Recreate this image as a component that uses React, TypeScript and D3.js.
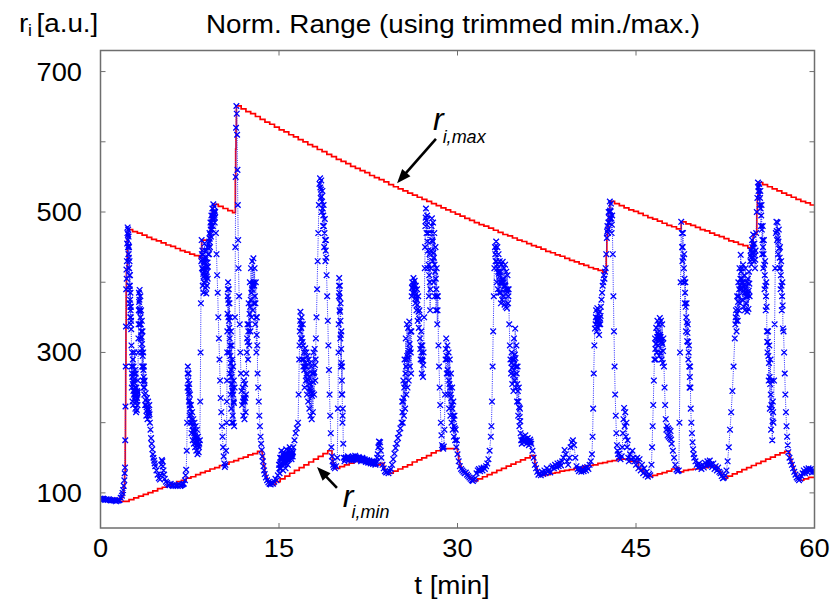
import React, { useEffect, useRef } from 'react';
import * as d3 from 'd3';

type Pt = [number, number];

const xTicks = [0, 15, 30, 45, 60];
const yTicks = [100, 200, 300, 400, 500, 600, 700];
const yLabels = [100, 300, 500, 700];
const STEP = 0.4; // update interval of the trimmed min./max. [min]

// measured signal r_i(t): [t in min, r_i]
const trace0to15: Pt[] = [
  [0, 92], [0.1, 91], [0.2, 92], [0.3, 91], [0.4, 90], [0.5, 91], [0.6, 90], [0.7, 91], [0.8, 90], [0.9, 89],
  [1.0, 90], [1.1, 89], [1.2, 89], [1.3, 88], [1.4, 89], [1.5, 89], [1.6, 90], [1.7, 93], [1.8, 96], [1.85, 100],
  [1.9, 104], [1.95, 110], [2.0, 118], [2.03, 128], [2.06, 136], [2.08, 175], [2.1, 223], [2.12, 280], [2.14, 337],
  [2.16, 390], [2.18, 418], [2.2, 405], [2.22, 430], [2.24, 455], [2.26, 470], [2.28, 478], [2.3, 460], [2.32, 475],
  [2.34, 440], [2.36, 465], [2.38, 420], [2.4, 450], [2.42, 395], [2.44, 430], [2.46, 370], [2.48, 410], [2.5, 350],
  [2.52, 385], [2.54, 340], [2.56, 365], [2.58, 333], [2.6, 310], [2.63, 250], [2.66, 300], [2.69, 230], [2.72, 290],
  [2.75, 225], [2.78, 280], [2.81, 240], [2.84, 300], [2.87, 235], [2.9, 275], [2.93, 220], [2.96, 270], [2.99, 215],
  [3.02, 250], [3.05, 218], [3.08, 245], [3.11, 225], [3.14, 260], [3.17, 300], [3.2, 340], [3.23, 385], [3.26, 360],
  [3.29, 389], [3.32, 340], [3.35, 380], [3.38, 320], [3.41, 360], [3.44, 300], [3.47, 345], [3.5, 280], [3.53, 330],
  [3.56, 260], [3.59, 300], [3.62, 250], [3.65, 280], [3.68, 240], [3.71, 260], [3.75, 225], [3.8, 242], [3.85, 210],
  [3.9, 235], [3.95, 205], [4.0, 230], [4.05, 210], [4.1, 225], [4.15, 200], [4.2, 190], [4.25, 178], [4.3, 170],
  [4.35, 162], [4.4, 155], [4.45, 150], [4.5, 146], [4.55, 142], [4.6, 138], [4.7, 132], [4.8, 126], [4.9, 121],
  [5.0, 119], [5.05, 125], [5.1, 140], [5.15, 147], [5.2, 145], [5.25, 138], [5.3, 132], [5.35, 126], [5.4, 120],
  [5.5, 116], [5.6, 114], [5.7, 112], [5.8, 111], [5.9, 113], [6.0, 111], [6.1, 110], [6.2, 112], [6.3, 110],
  [6.4, 111], [6.5, 110], [6.6, 112], [6.7, 110], [6.8, 111], [6.9, 112], [7.0, 113], [7.1, 118], [7.15, 125],
  [7.2, 133], [7.25, 160], [7.28, 200], [7.31, 250], [7.34, 280], [7.37, 260], [7.4, 270], [7.43, 230], [7.46, 255],
  [7.49, 210], [7.52, 240], [7.55, 200], [7.6, 225], [7.65, 185], [7.7, 215], [7.75, 175], [7.8, 205], [7.85, 170],
  [7.9, 200], [7.95, 165], [8.0, 195], [8.05, 160], [8.1, 190], [8.15, 155], [8.2, 180], [8.25, 158], [8.3, 170],
  [8.35, 175], [8.38, 230], [8.41, 300], [8.44, 370], [8.47, 430], [8.5, 460], [8.53, 420], [8.56, 445], [8.59, 395],
  [8.62, 440], [8.65, 385], [8.68, 430], [8.71, 400], [8.74, 455], [8.77, 410], [8.8, 445], [8.83, 392], [8.86, 435],
  [8.89, 384], [8.92, 420], [8.95, 395], [8.98, 450], [9.01, 405], [9.04, 440], [9.08, 455], [9.12, 440], [9.16, 470],
  [9.2, 450], [9.24, 485], [9.28, 465], [9.32, 495], [9.36, 475], [9.4, 505], [9.44, 480], [9.48, 511], [9.52, 490],
  [9.56, 508], [9.6, 485], [9.64, 500], [9.7, 470], [9.75, 440], [9.8, 410], [9.85, 385], [9.9, 350], [9.95, 320],
  [10.0, 290], [10.05, 260], [10.1, 235], [10.15, 215], [10.2, 195], [10.25, 180], [10.3, 165], [10.35, 152],
  [10.4, 142], [10.45, 137], [10.5, 140], [10.55, 160], [10.6, 200], [10.63, 260], [10.66, 330], [10.69, 380],
  [10.72, 400], [10.75, 350], [10.78, 390], [10.81, 300], [10.84, 370], [10.87, 270], [10.9, 350], [10.93, 240],
  [10.96, 330], [10.99, 220], [11.02, 310], [11.05, 200], [11.08, 290], [11.11, 210], [11.14, 280], [11.17, 200],
  [11.2, 260], [11.23, 195], [11.27, 250], [11.3, 350], [11.33, 450], [11.36, 550], [11.39, 620], [11.42, 651],
  [11.45, 640], [11.48, 610], [11.51, 560], [11.54, 510], [11.57, 460], [11.6, 420], [11.65, 380], [11.7, 340],
  [11.75, 300], [11.8, 270], [11.85, 245], [11.9, 225], [11.95, 250], [12.0, 210], [12.05, 260], [12.1, 205],
  [12.15, 255], [12.2, 215], [12.25, 270], [12.3, 300], [12.35, 340], [12.4, 290], [12.45, 370], [12.5, 310],
  [12.55, 400], [12.6, 330], [12.65, 420], [12.7, 350], [12.75, 430], [12.8, 360], [12.85, 434], [12.9, 370],
  [12.95, 420], [13.0, 340], [13.05, 400], [13.1, 300], [13.15, 350], [13.2, 270], [13.25, 250], [13.3, 230],
  [13.35, 210], [13.4, 195], [13.45, 180], [13.5, 170], [13.55, 161], [13.6, 152], [13.65, 145], [13.7, 138],
  [13.75, 132], [13.8, 127], [13.9, 122], [14.0, 118], [14.1, 115], [14.2, 113], [14.3, 112], [14.4, 114],
  [14.5, 113], [14.6, 116], [14.7, 120], [14.8, 118], [14.9, 125],
];

// extra samples inside the noisy bands, 0-15 min
const band0to15: Pt[] = [
  [2.31, 450], [2.33, 468], [2.35, 452], [2.37, 440], [2.39, 435], [2.41, 420], [2.43, 410], [2.45, 390],
  [2.47, 395], [2.49, 375], [2.51, 365], [2.53, 360], [2.55, 350], [2.57, 345], [2.615, 280], [2.645, 270],
  [2.675, 265], [2.705, 255], [2.735, 260], [2.765, 245], [2.795, 258], [2.825, 270], [2.855, 262], [2.885, 250],
  [2.915, 245], [2.945, 240], [2.975, 238], [3.005, 232], [3.035, 230], [3.065, 235], [3.095, 240], [3.125, 243],
  [3.185, 320], [3.215, 360], [3.245, 372], [3.275, 375], [3.305, 362], [3.335, 358], [3.365, 350], [3.395, 340],
  [3.425, 330], [3.455, 322], [3.485, 312], [3.515, 305], [3.545, 295], [3.575, 280], [3.605, 275], [3.635, 265],
  [3.665, 258], [3.695, 250], [3.775, 232], [3.825, 225], [3.875, 222], [3.925, 218], [3.975, 220], [4.025, 218],
  [4.075, 215], [4.125, 212], [7.325, 270], [7.355, 270], [7.385, 245], [7.415, 250], [7.445, 242], [7.475, 232],
  [7.505, 225], [7.535, 220], [7.575, 212], [7.625, 205], [7.675, 200], [7.725, 195], [7.775, 190], [7.825, 188],
  [7.875, 185], [7.925, 182], [7.975, 180], [8.025, 178], [8.075, 175], [8.125, 172], [8.175, 168], [8.225, 168],
  [8.275, 165], [8.515, 440], [8.545, 432], [8.575, 420], [8.605, 418], [8.635, 412], [8.665, 408], [8.695, 415],
  [8.725, 428], [8.755, 432], [8.785, 428], [8.815, 418], [8.845, 412], [8.875, 410], [8.905, 402], [8.935, 408],
  [8.965, 422], [8.995, 428], [9.025, 422], [9.1, 448], [9.14, 458], [9.18, 462], [9.22, 468], [9.26, 475],
  [9.3, 480], [9.34, 485], [9.38, 490], [9.42, 492], [9.46, 495], [9.5, 500], [9.54, 498], [9.58, 496],
  [9.62, 492], [10.615, 230], [10.645, 300], [10.675, 355], [10.705, 390], [10.735, 375], [10.765, 370],
  [10.795, 345], [10.825, 335], [10.855, 320], [10.885, 310], [10.915, 295], [10.945, 285], [10.975, 275],
  [11.005, 265], [11.035, 255], [11.065, 245], [11.095, 250], [11.125, 245], [11.155, 240], [11.185, 230],
  [11.215, 228], [11.975, 230], [12.025, 235], [12.075, 232], [12.125, 230], [12.175, 235], [12.225, 240],
  [12.325, 320], [12.375, 315], [12.425, 330], [12.475, 340], [12.525, 355], [12.575, 365], [12.625, 375],
  [12.675, 385], [12.725, 390], [12.775, 395], [12.825, 398], [12.875, 400], [12.925, 395], [12.975, 380],
  [13.025, 370], [13.075, 350], [13.125, 325], [13.175, 310],
];

const trace15to30: Pt[] = [
  [15.0, 140], [15.05, 128], [15.1, 150], [15.15, 135], [15.2, 160], [15.25, 140], [15.3, 155], [15.35, 132],
  [15.4, 158], [15.45, 140], [15.5, 150], [15.55, 135], [15.6, 162], [15.65, 145], [15.7, 155], [15.75, 140],
  [15.8, 160], [15.85, 148], [15.9, 165], [15.95, 150], [16.0, 158], [16.05, 148], [16.1, 160], [16.15, 152],
  [16.2, 165], [16.3, 175], [16.4, 185], [16.5, 192], [16.6, 200], [16.65, 240], [16.7, 290], [16.75, 330],
  [16.8, 358], [16.85, 320], [16.9, 350], [16.95, 290], [17.0, 340], [17.05, 280], [17.1, 300], [17.15, 250],
  [17.2, 306], [17.25, 260], [17.3, 300], [17.35, 240], [17.4, 295], [17.45, 230], [17.5, 290], [17.55, 220],
  [17.6, 285], [17.65, 210], [17.7, 280], [17.75, 205], [17.8, 270], [17.85, 215], [17.9, 300], [17.95, 240],
  [18.0, 305], [18.05, 260], [18.1, 320], [18.15, 350], [18.2, 390], [18.25, 430], [18.3, 470], [18.35, 510],
  [18.4, 540], [18.45, 548], [18.5, 520], [18.55, 545], [18.6, 500], [18.65, 530], [18.7, 480], [18.75, 510],
  [18.8, 450], [18.85, 490], [18.9, 430], [18.95, 460], [19.0, 410], [19.05, 380], [19.1, 345], [19.15, 310],
  [19.2, 275], [19.25, 240], [19.3, 210], [19.35, 185], [19.4, 165], [19.45, 152], [19.5, 145], [19.55, 140],
  [19.6, 137], [19.7, 135], [19.8, 138], [19.9, 150], [19.95, 220], [20.0, 300], [20.03, 380], [20.06, 406],
  [20.09, 360], [20.12, 395], [20.15, 320], [20.18, 370], [20.21, 280], [20.24, 330], [20.27, 240], [20.3, 280],
  [20.33, 200], [20.36, 220], [20.4, 170], [20.45, 150], [20.5, 145], [20.6, 150], [20.7, 148], [20.8, 152],
  [20.9, 147], [21.0, 150], [21.1, 146], [21.2, 152], [21.3, 148], [21.4, 153], [21.5, 150], [21.6, 147],
  [21.7, 151], [21.8, 149], [21.9, 145], [22.0, 150], [22.1, 146], [22.2, 148], [22.3, 144], [22.4, 147],
  [22.5, 143], [22.6, 146], [22.7, 142], [22.8, 145], [22.9, 141], [23.0, 144], [23.1, 140], [23.2, 145],
  [23.3, 155], [23.35, 165], [23.4, 173], [23.45, 168], [23.5, 172], [23.55, 160], [23.6, 150], [23.7, 140],
  [23.8, 135], [23.9, 131], [24.0, 129], [24.1, 130], [24.2, 128], [24.3, 131], [24.4, 134], [24.5, 140],
  [24.6, 148], [24.7, 156], [24.8, 164], [24.9, 170], [25.0, 178], [25.1, 185], [25.2, 192], [25.3, 200],
  [25.35, 230], [25.4, 200], [25.45, 260], [25.5, 210], [25.55, 290], [25.6, 220], [25.65, 320], [25.7, 240],
  [25.75, 340], [25.8, 250], [25.85, 335], [25.9, 260], [25.95, 344], [26.0, 280], [26.05, 330], [26.1, 270],
  [26.15, 380], [26.2, 400], [26.25, 385], [26.3, 406], [26.35, 390], [26.4, 402], [26.45, 370], [26.5, 395],
  [26.55, 360], [26.6, 390], [26.65, 345], [26.7, 380], [26.75, 335], [26.8, 360], [26.85, 320], [26.9, 290],
  [26.95, 330], [27.0, 270], [27.05, 310], [27.1, 265], [27.15, 300], [27.2, 350], [27.25, 420], [27.3, 480],
  [27.35, 505], [27.4, 470], [27.45, 495], [27.5, 420], [27.55, 470], [27.6, 380], [27.65, 440], [27.7, 360],
  [27.75, 420], [27.8, 470], [27.85, 491], [27.9, 430], [27.95, 485], [28.0, 400], [28.05, 470], [28.1, 380],
  [28.15, 450], [28.2, 360], [28.25, 420], [28.3, 340], [28.35, 380], [28.4, 310], [28.45, 280], [28.5, 250],
  [28.55, 225], [28.6, 200], [28.65, 182], [28.7, 168], [28.75, 165], [28.8, 163], [28.85, 166], [28.9, 190],
  [28.95, 240], [29.0, 290], [29.05, 320], [29.1, 270], [29.15, 310], [29.2, 240], [29.25, 300], [29.3, 220],
  [29.35, 290], [29.4, 210], [29.45, 270], [29.5, 200], [29.55, 250], [29.6, 190], [29.65, 230], [29.7, 180],
  [29.75, 210], [29.8, 175], [29.85, 190], [29.9, 165], [29.95, 175],
];

// extra samples inside the noisy bands, 15-30 min
const band15to30: Pt[] = [
  [15.025, 135], [15.075, 140], [15.125, 142], [15.175, 148], [15.225, 150], [15.275, 148], [15.325, 145],
  [15.375, 145], [15.425, 150], [15.475, 145], [15.525, 142], [15.575, 148], [15.625, 152], [15.675, 150],
  [15.725, 148], [15.775, 150], [15.825, 155], [15.875, 156], [15.925, 158], [15.975, 155], [16.025, 152],
  [16.075, 155], [16.125, 156], [16.175, 158], [16.725, 310], [16.775, 345], [16.825, 340], [16.875, 335],
  [16.925, 320], [16.975, 315], [17.025, 310], [17.075, 290], [17.125, 275], [17.175, 280], [17.225, 285],
  [17.275, 280], [17.325, 270], [17.375, 268], [17.425, 262], [17.475, 260], [17.525, 255], [17.575, 250],
  [17.625, 248], [17.675, 245], [17.725, 242], [17.775, 238], [17.825, 242], [17.875, 258], [17.925, 270],
  [17.975, 272], [18.025, 282], [18.075, 290], [18.475, 535], [18.525, 532], [18.575, 522], [18.625, 515],
  [18.675, 505], [18.725, 495], [18.775, 480], [18.825, 470], [18.875, 460], [18.925, 445], [18.975, 435],
  [20.015, 340], [20.045, 395], [20.075, 385], [20.105, 378], [20.135, 358], [20.165, 345], [20.195, 325],
  [20.225, 305], [20.255, 285], [20.285, 260], [20.315, 240], [20.345, 210], [20.55, 148], [20.65, 149],
  [20.75, 150], [20.85, 149], [20.95, 148], [21.05, 148], [21.15, 149], [21.25, 150], [21.35, 150], [21.45, 151],
  [21.55, 148], [21.65, 149], [21.75, 150], [21.85, 147], [21.95, 148], [22.05, 148], [22.15, 147], [22.25, 146],
  [22.35, 145], [22.45, 145], [22.55, 144], [22.65, 144], [22.75, 143], [22.85, 143], [22.95, 142], [23.05, 142],
  [23.15, 142], [23.25, 150], [25.375, 215], [25.425, 230], [25.475, 235], [25.525, 250], [25.575, 255],
  [25.625, 270], [25.675, 280], [25.725, 290], [25.775, 295], [25.825, 292], [25.875, 298], [25.925, 302],
  [25.975, 312], [26.025, 305], [26.075, 300], [26.125, 330], [26.175, 392], [26.225, 392], [26.275, 395],
  [26.325, 398], [26.375, 396], [26.425, 386], [26.475, 382], [26.525, 378], [26.575, 375], [26.625, 368],
  [26.675, 362], [26.725, 358], [26.775, 348], [26.875, 305], [26.925, 310], [26.975, 300], [27.025, 290],
  [27.075, 288], [27.125, 282], [27.275, 450], [27.325, 492], [27.375, 488], [27.425, 482], [27.475, 458],
  [27.525, 445], [27.575, 425], [27.625, 410], [27.675, 400], [27.725, 390], [27.775, 445], [27.825, 480],
  [27.875, 460], [27.925, 458], [27.975, 442], [28.025, 435], [28.075, 425], [28.125, 415], [28.175, 405],
  [28.225, 390], [28.275, 380], [28.325, 360], [29.025, 305], [29.075, 295], [29.125, 290], [29.175, 275],
  [29.225, 270], [29.275, 260], [29.325, 255], [29.375, 250], [29.425, 240], [29.475, 235], [29.525, 225],
  [29.575, 220], [29.625, 210], [29.675, 205], [29.725, 195], [29.775, 192],
];

const trace30to45: Pt[] = [
  [30.0, 155], [30.1, 145], [30.2, 138], [30.3, 134], [30.4, 132], [30.5, 130], [30.6, 128], [30.7, 129],
  [30.8, 126], [30.9, 124], [31.0, 122], [31.1, 120], [31.2, 118], [31.3, 117], [31.4, 119], [31.5, 121],
  [31.6, 128], [31.7, 132], [31.8, 134], [31.9, 131], [32.0, 135], [32.1, 132], [32.2, 136], [32.3, 134],
  [32.4, 138], [32.5, 142], [32.6, 148], [32.7, 160], [32.8, 180], [32.85, 195], [32.9, 230], [32.95, 280],
  [33.0, 330], [33.05, 380], [33.1, 420], [33.15, 450], [33.2, 430], [33.25, 458], [33.3, 400], [33.35, 450],
  [33.4, 390], [33.45, 440], [33.5, 385], [33.55, 430], [33.6, 400], [33.65, 370], [33.7, 425], [33.75, 375],
  [33.8, 429], [33.85, 380], [33.9, 420], [33.95, 368], [34.0, 425], [34.05, 365], [34.1, 415], [34.15, 363],
  [34.2, 410], [34.25, 370], [34.3, 390], [34.35, 340], [34.4, 310], [34.45, 290], [34.5, 270], [34.55, 300],
  [34.6, 255], [34.65, 290], [34.7, 245], [34.75, 320], [34.8, 260], [34.85, 334], [34.9, 250], [34.95, 310],
  [35.0, 230], [35.05, 280], [35.1, 210], [35.15, 250], [35.2, 195], [35.25, 220], [35.3, 185], [35.35, 175],
  [35.4, 170], [35.5, 180], [35.6, 172], [35.7, 182], [35.8, 170], [35.9, 178], [36.0, 168], [36.1, 176],
  [36.2, 170], [36.3, 160], [36.4, 150], [36.5, 140], [36.6, 135], [36.7, 130], [36.8, 126], [36.9, 128],
  [37.0, 125], [37.1, 130], [37.2, 127], [37.3, 132], [37.4, 128], [37.5, 135], [37.6, 130], [37.7, 133],
  [37.8, 129], [37.9, 136], [38.0, 138], [38.1, 135], [38.2, 140], [38.3, 137], [38.4, 142], [38.5, 138],
  [38.6, 143], [38.7, 139], [38.8, 145], [38.9, 150], [39.0, 161], [39.1, 155], [39.2, 145], [39.3, 140],
  [39.4, 150], [39.5, 165], [39.6, 172], [39.7, 175], [39.8, 168], [39.9, 150], [40.0, 138], [40.1, 134],
  [40.2, 131], [40.3, 135], [40.4, 130], [40.5, 134], [40.6, 131], [40.7, 136], [40.8, 132], [40.9, 137],
  [41.0, 134], [41.1, 140], [41.2, 145], [41.3, 155], [41.35, 180], [41.4, 220], [41.45, 270], [41.5, 310],
  [41.55, 334], [41.6, 340], [41.65, 360], [41.7, 330], [41.75, 363], [41.8, 335], [41.85, 355], [41.9, 325],
  [41.95, 358], [42.0, 340], [42.05, 365], [42.1, 375], [42.15, 385], [42.2, 395], [42.25, 400], [42.3, 410],
  [42.35, 405], [42.4, 415], [42.45, 420], [42.5, 440], [42.55, 463], [42.6, 480], [42.65, 470], [42.7, 500],
  [42.75, 485], [42.8, 515], [42.85, 490], [42.9, 512], [42.95, 470], [43.0, 495], [43.05, 440], [43.1, 380],
  [43.15, 330], [43.2, 280], [43.25, 240], [43.3, 210], [43.35, 185], [43.4, 168], [43.45, 160], [43.5, 155],
  [43.55, 150], [43.6, 156], [43.7, 148], [43.8, 152], [43.85, 165], [43.9, 185], [43.95, 205], [44.0, 221],
  [44.05, 195], [44.1, 215], [44.15, 180], [44.2, 200], [44.25, 165], [44.3, 175], [44.35, 150], [44.4, 145],
  [44.5, 155], [44.6, 148], [44.7, 160], [44.8, 150], [44.9, 145],
];

// extra samples inside the noisy bands, 30-45 min
const band30to45: Pt[] = [
  [33.175, 440], [33.225, 445], [33.275, 430], [33.325, 425], [33.375, 420], [33.425, 415], [33.475, 412],
  [33.525, 408], [33.575, 415], [33.625, 385], [33.675, 398], [33.725, 400], [33.775, 402], [33.825, 405],
  [33.875, 400], [33.925, 394], [33.975, 396], [34.025, 395], [34.075, 390], [34.125, 389], [34.175, 386],
  [34.225, 390], [34.275, 380], [34.525, 285], [34.575, 278], [34.625, 272], [34.675, 268], [34.725, 282],
  [34.775, 290], [34.825, 297], [34.875, 292], [34.925, 280], [34.975, 270], [35.025, 255], [35.075, 245],
  [35.125, 230], [35.175, 222], [35.225, 208], [35.275, 202], [35.45, 175], [35.55, 176], [35.65, 177],
  [35.75, 176], [35.85, 174], [35.95, 173], [36.05, 172], [36.15, 173], [41.625, 350], [41.675, 345],
  [41.725, 346], [41.775, 349], [41.825, 345], [41.875, 340], [41.925, 342], [41.975, 349], [42.025, 352],
  [42.575, 472], [42.625, 475], [42.675, 485], [42.725, 492], [42.775, 500], [42.825, 502], [42.875, 501],
  [42.925, 491], [42.975, 482],
];

const trace45to60: Pt[] = [
  [45.0, 140], [45.1, 150], [45.2, 135], [45.3, 148], [45.4, 132], [45.5, 140], [45.6, 128], [45.7, 135],
  [45.8, 125], [45.9, 130], [46.0, 123], [46.1, 127], [46.2, 125], [46.3, 140], [46.35, 165], [46.4, 195],
  [46.45, 225], [46.5, 260], [46.55, 290], [46.6, 320], [46.65, 290], [46.7, 335], [46.75, 300], [46.8, 345],
  [46.85, 310], [46.9, 340], [46.95, 295], [47.0, 349], [47.05, 300], [47.1, 345], [47.15, 290], [47.2, 340],
  [47.25, 285], [47.3, 320], [47.35, 280], [47.4, 250], [47.45, 225], [47.5, 205], [47.55, 190], [47.6, 195],
  [47.65, 182], [47.7, 192], [47.75, 180], [47.8, 190], [47.85, 178], [47.9, 188], [47.95, 176], [48.0, 170],
  [48.1, 160], [48.2, 150], [48.3, 140], [48.4, 133], [48.5, 131], [48.6, 132], [48.65, 200], [48.7, 300],
  [48.75, 400], [48.8, 486], [48.85, 470], [48.9, 430], [48.95, 470], [49.0, 400], [49.05, 440], [49.1, 370],
  [49.15, 400], [49.2, 330], [49.25, 370], [49.3, 316], [49.35, 340], [49.4, 290], [49.45, 310], [49.5, 250],
  [49.55, 280], [49.6, 220], [49.65, 200], [49.7, 185], [49.75, 172], [49.8, 162], [49.85, 155], [49.9, 150],
  [50.0, 145], [50.1, 140], [50.2, 136], [50.3, 142], [50.4, 138], [50.5, 134], [50.6, 140], [50.7, 136],
  [50.8, 143], [50.9, 139], [51.0, 145], [51.1, 140], [51.2, 146], [51.3, 141], [51.4, 137], [51.5, 142],
  [51.6, 134], [51.7, 138], [51.8, 132], [51.9, 136], [52.0, 130], [52.1, 128], [52.2, 124], [52.3, 121],
  [52.4, 122], [52.5, 125], [52.6, 132], [52.7, 145], [52.8, 165], [52.9, 190], [53.0, 215], [53.1, 245],
  [53.2, 280], [53.3, 320], [53.35, 340], [53.4, 360], [53.45, 330], [53.5, 380], [53.55, 345], [53.6, 400],
  [53.65, 360], [53.7, 420], [53.75, 370], [53.8, 439], [53.85, 390], [53.9, 420], [53.95, 375], [54.0, 425],
  [54.05, 365], [54.1, 410], [54.15, 360], [54.2, 420], [54.25, 370], [54.3, 400], [54.35, 358], [54.4, 405],
  [54.45, 362], [54.5, 415], [54.55, 380], [54.6, 430], [54.65, 445], [54.7, 425], [54.75, 460], [54.8, 440],
  [54.85, 468], [54.9, 430], [54.95, 455], [55.0, 420], [55.05, 445], [55.1, 470], [55.15, 500], [55.2, 520],
  [55.25, 542], [55.3, 530], [55.35, 540], [55.4, 510], [55.45, 530], [55.5, 480], [55.55, 510], [55.6, 440],
  [55.65, 480], [55.7, 420], [55.75, 460], [55.8, 390], [55.85, 430], [55.9, 360], [55.95, 400], [56.0, 330],
  [56.05, 300], [56.1, 330], [56.15, 260], [56.2, 310], [56.25, 220], [56.3, 290], [56.35, 190], [56.4, 260],
  [56.45, 175], [56.5, 230], [56.55, 200], [56.6, 260], [56.65, 340], [56.7, 420], [56.75, 470], [56.8, 486],
  [56.85, 460], [56.9, 485], [56.95, 440], [57.0, 475], [57.05, 420], [57.1, 450], [57.15, 390], [57.2, 430],
  [57.25, 360], [57.3, 400], [57.35, 334], [57.4, 330], [57.45, 300], [57.5, 270], [57.55, 240], [57.6, 215],
  [57.65, 195], [57.7, 180], [57.75, 168], [57.8, 158], [57.9, 150], [58.0, 145], [58.1, 140], [58.2, 135],
  [58.3, 130], [58.4, 126], [58.5, 122], [58.6, 120], [58.7, 118], [58.8, 120], [58.9, 124], [59.0, 128],
  [59.1, 132], [59.2, 128], [59.3, 134], [59.4, 130], [59.5, 135], [59.6, 131], [59.7, 134], [59.8, 129],
  [59.9, 133], [60.0, 130],
];

// extra samples inside the noisy bands, 45-60 min
const band45to60: Pt[] = [
  [46.625, 305], [46.675, 312], [46.725, 318], [46.775, 322], [46.825, 328], [46.875, 325], [46.925, 318],
  [46.975, 322], [47.025, 325], [47.075, 322], [47.125, 318], [47.175, 315], [47.225, 312], [47.275, 302],
  [48.875, 450], [48.925, 450], [48.975, 435], [49.025, 420], [49.075, 405], [49.125, 385], [49.175, 365],
  [49.225, 350], [49.275, 343], [49.325, 328], [49.375, 315], [49.425, 300], [49.475, 280], [49.525, 265],
  [49.575, 250], [53.375, 350], [53.425, 345], [53.475, 355], [53.525, 362], [53.575, 372], [53.625, 380],
  [53.675, 390], [53.725, 395], [53.775, 405], [53.825, 415], [53.875, 405], [53.925, 398], [53.975, 400],
  [54.025, 395], [54.075, 388], [54.125, 385], [54.175, 390], [54.225, 395], [54.275, 385], [54.325, 379],
  [54.375, 382], [54.425, 384], [54.475, 388], [54.525, 398], [54.625, 438], [54.675, 435], [54.725, 442],
  [54.775, 450], [54.825, 454], [54.875, 449], [54.925, 442], [54.975, 438], [55.025, 432], [55.275, 536],
  [55.325, 535], [55.375, 525], [55.425, 520], [55.475, 505], [55.525, 495], [55.575, 475], [55.625, 460],
  [55.675, 450], [55.725, 440], [55.775, 425], [55.825, 410], [55.875, 395], [55.925, 380], [55.975, 365],
  [56.025, 315], [56.075, 315], [56.125, 295], [56.175, 285], [56.225, 265], [56.275, 255], [56.325, 240],
  [56.375, 225], [56.425, 218], [56.475, 202], [56.525, 215], [56.825, 473], [56.875, 472], [56.925, 462],
  [56.975, 458], [57.025, 448], [57.075, 435], [57.125, 420], [57.175, 410], [57.225, 395], [57.275, 380],
  [57.325, 367],
];

// trimmed max. r_i,max: rising edges as [t, r], decays as stair values every STEP
const rMaxRise1: Pt[] = [[0, 92], [1.8, 96], [1.95, 110], [2.03, 128], [2.08, 175], [2.1, 223], [2.12, 280],
  [2.14, 337], [2.16, 390], [2.18, 418], [2.26, 470]];
const rMaxDecay1 = [475, 472, 470, 467, 464, 461, 459, 456, 453, 451, 448, 445, 443, 440, 438, 435];
const rMaxRise2: Pt[] = [[8.5, 460], [9.16, 470], [9.24, 485], [9.32, 495], [9.4, 505], [9.48, 511]];
const rMaxDecay2 = [508, 505, 502, 499];
const rMaxRise3: Pt[] = [[11.33, 550], [11.36, 590], [11.39, 620]];
const rMaxDecay3 = [651, 647, 643, 640, 636, 632, 628, 625, 621, 617, 614, 610, 607, 603, 600, 596, 593, 589,
  586, 582, 579, 575, 572, 569, 565, 562, 559, 556, 552, 549, 546, 543, 539, 536, 533, 530, 527, 524, 521, 518,
  515, 512, 509, 506, 503, 500, 497, 494, 491, 488, 485, 482, 480, 477, 474, 471, 468, 466, 463, 460, 458, 455,
  452, 450, 447, 444, 442, 439, 437, 434, 431, 429, 426, 424, 421, 419, 417, 414];
const rMaxRise4: Pt[] = [[42.5, 440], [42.55, 463], [42.6, 480], [42.7, 500]];
const rMaxDecay4 = [515, 512, 509, 506, 503, 501, 498, 495, 492, 490, 487, 484, 481, 479, 476];
const rMaxDecay5 = [486, 483, 481, 478, 475, 473, 470, 467, 465, 462, 459, 457, 454, 452, 449];
const rMaxRise6: Pt[] = [[54.75, 460], [54.85, 468], [55.1, 470], [55.15, 500], [55.2, 520]];
const rMaxDecay6 = [542, 539, 536, 533, 530, 527, 524, 521, 518, 515, 513, 510];

// trimmed min. r_i,min
const rMinStart: Pt[] = [[0, 90], [1.0, 89], [1.5, 88]];
const rMinRun1 = [88, 90.5, 93, 95.5, 98, 100.5, 103, 106, 108, 111, 113, 116, 118, 121, 123, 126, 129, 131, 134,
  136, 139, 141, 144, 146, 149, 151, 154, 156, 159];
const rMinFall1: Pt[] = [[13.6, 152], [13.7, 138], [13.8, 127], [13.9, 122], [14.0, 118], [14.1, 115], [14.2, 113]];
const rMinRun2 = [112, 116, 120, 124, 128, 132, 136, 140, 144, 148, 152, 156, 160];
const rMinFall2: Pt[] = [[19.45, 152], [19.5, 145], [19.55, 140], [19.6, 137], [19.7, 135]];
const rMinRun3 = [137.5, 140, 142.5, 145, 147];
const rMinFall3: Pt[] = [[22.3, 144], [22.5, 143], [22.7, 142], [22.9, 141], [23.1, 140], [23.5, 142], [23.8, 135],
  [23.9, 131], [24.0, 129], [24.2, 128]];
const rMinRun4 = [131, 134, 137, 140, 144, 147, 150, 153, 157, 160, 163];
const rMinFall4: Pt[] = [[30.0, 155], [30.1, 145], [30.2, 138], [30.3, 134], [30.4, 132], [30.5, 130], [30.6, 128],
  [30.8, 126], [30.9, 124], [31.0, 122], [31.1, 120], [31.2, 118], [31.3, 117]];
const rMinRun5 = [120, 123, 126, 129, 132, 135, 138, 141, 144, 147, 150, 153];
const rMinFall5: Pt[] = [[36.5, 140], [36.6, 135], [36.7, 130], [36.8, 126], [37.0, 125]];
const rMinRun6 = [126, 128, 129, 131, 132, 133, 135, 136, 138, 139, 140, 142, 143, 145, 146, 148];
const rMinFall6: Pt[] = [[44.4, 145], [45.2, 135], [45.4, 132], [45.6, 128], [45.8, 125], [46.0, 123]];
const rMinRun7 = [125, 127, 129, 131, 134, 136];
const rMinFall7: Pt[] = [[48.6, 130]];
const rMinRun8 = [132, 133, 134, 135, 136, 137, 138];
const rMinFall8: Pt[] = [[51.8, 132], [52.0, 130], [52.1, 128], [52.2, 124], [52.3, 121]];
const rMinRun9 = [124, 127, 130, 133, 136, 139, 142, 145, 148, 151, 154, 157, 159];
const rMinFall9: Pt[] = [[57.9, 150], [58.0, 145], [58.1, 140], [58.2, 135], [58.3, 130], [58.4, 126], [58.5, 122],
  [58.6, 120], [58.7, 118]];
const rMinRun10 = [120, 122];

// annotations: [label pos, subscript pos, arrow tail, arrow tip] in data units
const maxLabel: Pt[] = [[27.94, 617], [28.75, 598], [28.19, 604], [24.92, 541]];
const minLabel: Pt[] = [[20.36, 80], [21.1, 64], [19.87, 107], [18.19, 137]];

const stairs = (t0: number, values: number[]): Pt[] => values.map((v, i) => [t0 + i * STEP, v] as Pt);

const rMax: Pt[] = [
  ...rMaxRise1, ...stairs(2.3, rMaxDecay1), ...rMaxRise2, ...stairs(9.9, rMaxDecay2), ...rMaxRise3,
  ...stairs(11.42, rMaxDecay3), ...rMaxRise4, ...stairs(42.8, rMaxDecay4), ...stairs(48.8, rMaxDecay5),
  ...rMaxRise6, ...stairs(55.25, rMaxDecay6), [60, 510],
];
const rMin: Pt[] = [
  ...rMinStart, ...stairs(2.0, rMinRun1), ...rMinFall1, ...stairs(14.3, rMinRun2), ...rMinFall2,
  ...stairs(20.1, rMinRun3), ...rMinFall3, ...stairs(24.6, rMinRun4), ...rMinFall4, ...stairs(31.7, rMinRun5),
  ...rMinFall5, ...stairs(37.4, rMinRun6), ...rMinFall6, ...stairs(46.4, rMinRun7), ...rMinFall7,
  ...stairs(49.0, rMinRun8), ...rMinFall8, ...stairs(52.7, rMinRun9), ...rMinFall9, ...stairs(59.1, rMinRun10),
  [60, 122],
];

const FONT = '"Liberation Sans", Arial, Helvetica, sans-serif';
const SX = 1.09; // glyphs in the reference are slightly wide

const App = () => {
  const svgRef = useRef<SVGSVGElement>(null);

  useEffect(() => {
    const svg = d3.select(svgRef.current);
    svg.selectAll('*').remove();

    const left = 100.5;
    const right = 814.5;
    const top = 50.5;
    const bottom = 528;

    const x = d3.scaleLinear().domain([0, 60]).range([left, right]);
    const y = d3.scaleLinear().domain([50, 730]).range([bottom, top]);

    svg.append('rect').attr('width', 838).attr('height', 601).attr('fill', '#fff');

    svg
      .append('defs')
      .append('clipPath')
      .attr('id', 'plot-clip')
      .append('rect')
      .attr('x', left)
      .attr('y', top)
      .attr('width', right - left)
      .attr('height', bottom - top);

    const plot = svg.append('g').attr('clip-path', 'url(#plot-clip)');

    // red stair lines
    const stepLine = d3
      .line<Pt>()
      .x((d) => x(d[0]))
      .y((d) => y(d[1]))
      .curve(d3.curveStepAfter);

    [rMax, rMin].forEach((series) => {
      plot
        .append('path')
        .attr('d', stepLine(series))
        .attr('fill', 'none')
        .attr('stroke', '#ff0000')
        .attr('stroke-width', 1.7);
    });

    // blue trace: dotted line + x markers
    const trace = [
      ...trace0to15, ...band0to15, ...trace15to30, ...band15to30,
      ...trace30to45, ...band30to45, ...trace45to60, ...band45to60,
    ].sort((a, b) => a[0] - b[0]);
    const line = d3
      .line<Pt>()
      .x((d) => x(d[0]))
      .y((d) => y(d[1]));

    plot
      .append('path')
      .attr('d', line(trace))
      .attr('fill', 'none')
      .attr('stroke', '#2a2aff')
      .attr('stroke-width', 1)
      .attr('stroke-dasharray', '1,1.2');

    const s = 2.8;
    const markers = trace
      .map(([t, v]) => {
        const px = x(t);
        const py = y(v);
        return `M${px - s},${py - s}L${px + s},${py + s}M${px - s},${py + s}L${px + s},${py - s}`;
      })
      .join('');
    plot
      .append('path')
      .attr('d', markers)
      .attr('fill', 'none')
      .attr('stroke', '#0000ff')
      .attr('stroke-width', 1.3);

    // frame and ticks
    const axisColor = '#6e6e6e';
    svg
      .append('rect')
      .attr('x', left)
      .attr('y', top)
      .attr('width', right - left)
      .attr('height', bottom - top)
      .attr('fill', 'none')
      .attr('stroke', axisColor)
      .attr('stroke-width', 1.5);

    const tickG = svg.append('g').attr('stroke', axisColor).attr('stroke-width', 1);
    xTicks.slice(1, -1).forEach((t) => {
      tickG.append('line').attr('x1', x(t)).attr('x2', x(t)).attr('y1', bottom).attr('y2', bottom - 5);
      tickG.append('line').attr('x1', x(t)).attr('x2', x(t)).attr('y1', top).attr('y2', top + 5);
    });
    yTicks.forEach((v) => {
      tickG.append('line').attr('x1', left).attr('x2', left + 5).attr('y1', y(v)).attr('y2', y(v));
      tickG.append('line').attr('x1', right).attr('x2', right - 5).attr('y1', y(v)).attr('y2', y(v));
    });

    const addText = (px: number, py: number, str: string, anchor: string, size: number) =>
      svg
        .append('text')
        .attr('transform', `translate(${px},${py}) scale(${SX},1)`)
        .attr('text-anchor', anchor)
        .attr('font-family', FONT)
        .attr('font-size', size)
        .attr('fill', '#000')
        .text(str);

    xTicks.forEach((t) => addText(x(t), 557, String(t), 'middle', 25));
    yLabels.forEach((v) => addText(82, y(v) + 9, String(v), 'end', 25));

    addText(453, 33, 'Norm. Range (using trimmed min./max.)', 'middle', 25.5);
    addText(452, 594, 't [min]', 'middle', 25.5);

    // y axis label r_i [a.u.]
    addText(19, 32, 'r', 'start', 25.5);
    addText(28, 35.5, 'i', 'start', 16);
    addText(36.5, 32, '[a.u.]', 'start', 25.5);

    // annotations
    const annotate = (pts: Pt[], sub: string) => {
      const [lab, subPos, tail, tip] = pts;
      svg
        .append('text')
        .attr('x', x(lab[0]))
        .attr('y', y(lab[1]))
        .attr('font-family', FONT)
        .attr('font-style', 'italic')
        .attr('font-size', 32)
        .text('r');
      svg
        .append('text')
        .attr('x', x(subPos[0]))
        .attr('y', y(subPos[1]))
        .attr('font-family', FONT)
        .attr('font-style', 'italic')
        .attr('font-size', 18)
        .text(sub);

      const x0 = x(tail[0]);
      const y0 = y(tail[1]);
      const x1 = x(tip[0]);
      const y1 = y(tip[1]);
      const len = Math.hypot(x1 - x0, y1 - y0);
      const ux = (x1 - x0) / len;
      const uy = (y1 - y0) / len;
      const hl = 14;
      const hw = 5.5;
      const bx = x1 - ux * hl;
      const by = y1 - uy * hl;
      svg
        .append('line')
        .attr('x1', x0)
        .attr('y1', y0)
        .attr('x2', bx + ux * 2)
        .attr('y2', by + uy * 2)
        .attr('stroke', '#000')
        .attr('stroke-width', 2.6);
      svg
        .append('polygon')
        .attr('points', `${x1},${y1} ${bx - uy * hw},${by + ux * hw} ${bx + uy * hw},${by - ux * hw}`)
        .attr('fill', '#000');
    };
    annotate(maxLabel, 'i,max');
    annotate(minLabel, 'i,min');
  }, []);

  return (
    <svg
      ref={svgRef}
      width={838}
      height={601}
      style={{ position: 'absolute', left: 0, top: 0, background: '#fff' }}
    />
  );
};

export default App;
